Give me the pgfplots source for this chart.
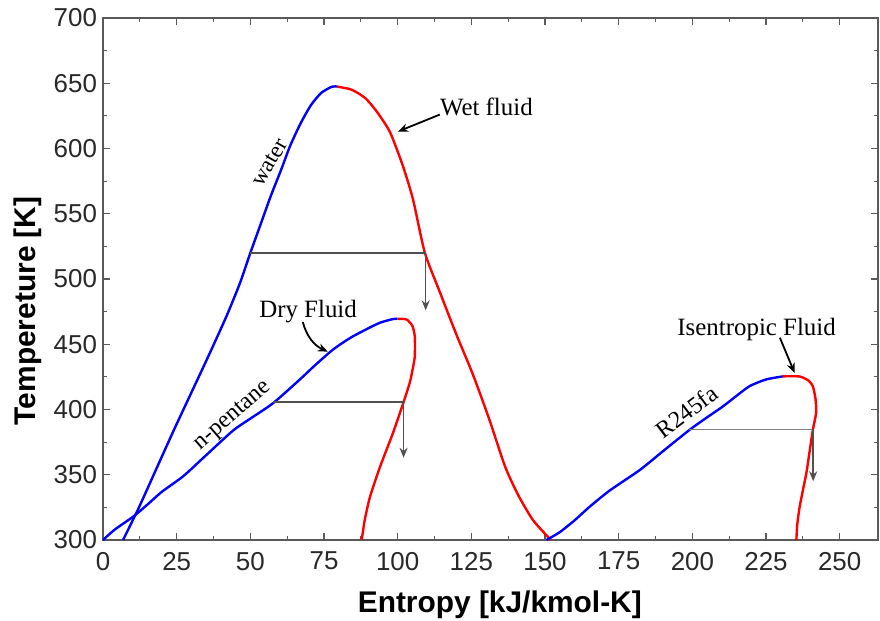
\documentclass[border=0pt]{standalone}
\usepackage{fontspec}
\setmainfont{Liberation Serif}
\setsansfont{Liberation Sans}
\usepackage{pgfplots}
\pgfplotsset{compat=1.18}
\usetikzlibrary{arrows.meta}
\definecolor{axgray}{RGB}{90,90,90}
\definecolor{hline}{RGB}{80,80,80}
\definecolor{tlab}{RGB}{40,40,40}
\begin{document}
\begin{tikzpicture}
\useasboundingbox (-51.5bp,-40.5bp) rectangle (388.5bp,270bp);
\begin{axis}[
  at={(0,0)}, anchor=south west,
  width=387.5bp, height=261bp, scale only axis,
  xmin=0, xmax=263, ymin=300, ymax=700,
  xtick={0,25,...,250}, ytick={300,350,...,700},
  minor x tick num=1, minor y tick num=1,
  major tick length=3.5bp, minor tick length=2bp,
  tick align=inside,
  axis line style={axgray, line width=0.8bp},
  every tick/.style={axgray, line width=0.6bp},
  /pgf/number format/assume math mode=true,
  ticklabel style={font=\sffamily\fontsize{13}{15}\selectfont, text=tlab},
  xticklabel style={yshift=-2.5bp},
  yticklabel style={xshift=0.5bp},
  xlabel={Entropy [kJ/kmol-K]},
  ylabel={Tempereture [K]},
  label style={font=\sffamily\bfseries\fontsize{15}{18}\selectfont},
  xlabel style={at={(axis description cs:0.512,-0.138)}, anchor=base},
  ylabel style={at={(axis description cs:-0.0877,0.439)}, anchor=base},
  clip=false,
]
% water - saturated liquid (blue)
\addplot[blue, line width=1.2bp, smooth, tension=0.4] coordinates {
(6.8,300) (12,324) (18,354) (24,384) (30,413) (36,442) (42,472) (46.5,497)
(50,520) (53.5,542) (57,564) (60.5,584) (63.5,602) (67,619) (70.5,633)
(74,642.5) (77.6,647.3) (79.4,647.5)};
% water - saturated vapour (red)
\addplot[red, line width=1.2bp, smooth, tension=0.4] coordinates {
(79.4,647.5) (83.8,645.5) (86.5,642.5) (89.4,637.8) (93,628) (97.4,612.5)
(101.8,586.4) (105.2,561) (109.2,520.3) (114.3,490) (120,457) (125.5,427)
(131,393) (136.5,356) (141,334) (146,315) (152,300)};
% n-pentane liquid (blue)
\addplot[blue, line width=1.2bp, smooth, tension=0.4] coordinates {
(0,300) (4,308) (10.3,318) (15,327) (20,337) (27.3,349) (35,365) (44.2,384)
(50,393) (57.8,405) (66.8,423) (72,434) (78.1,446) (84,455) (89.4,461.5)
(94,466.5) (98.4,469.3) (100,469.5)};
% n-pentane vapour (red)
\addplot[red, line width=1.2bp, smooth, tension=0.4] coordinates {
(100,469.5) (103,469) (105,464) (105.8,456) (105.8,440.5) (105,430)
(104.1,420.5) (101.9,405) (98.4,382) (94,356) (90.6,333) (88.8,315) (87.8,300)};
% R245fa liquid (blue)
\addplot[blue, line width=1.2bp, smooth, tension=0.4] coordinates {
(150.5,300) (155,306) (160,315) (165.2,325.6) (172,338) (182.2,353.7)
(190,368) (199.1,384.5) (205,394) (210.4,402.4) (215,410.5) (219.5,418)
(225,423) (230.7,425.4)};
% R245fa vapour (red)
\addplot[red, line width=1.2bp, smooth, tension=0.4] coordinates {
(230.7,425.4) (236.4,425.3) (239.5,422) (240.9,417.7) (241.8,408) (242,397.5)
(240.9,384.5) (239.8,368) (238.7,351.4) (237.5,338) (236.4,325.3) (235.6,312)
(235.3,300)};
% horizontal expansion lines and drop arrows
\addplot[hline, line width=1.1bp] coordinates {(50,520) (109.5,520)};
\addplot[hline, line width=0.8bp, -{Stealth[length=5bp,width=4bp]}] coordinates {(109.5,520) (109.5,476)};
\addplot[hline, line width=1.1bp] coordinates {(57.8,405.5) (102,405.5)};
\addplot[hline, line width=0.8bp, -{Stealth[length=5bp,width=4bp]}] coordinates {(102,405.5) (102,363)};
\addplot[gray, line width=0.5bp] coordinates {(199,385) (241,385)};
\addplot[hline, line width=0.7bp, -{Stealth[length=5bp,width=4bp]}] coordinates {(241,385) (241,345)};
% annotations
\node[font=\fontsize{12.5}{14}\selectfont] at (axis cs:130.1,631.7) {Wet fluid};
\draw[black, line width=0.9bp, -{Stealth[length=5bp,width=4bp]}] (axis cs:114.3,626) -- (axis cs:100.1,613);
\node[font=\fontsize{12.5}{14}\selectfont] at (axis cs:69.6,475) {Dry Fluid};
\draw[black, line width=0.9bp, -{Stealth[length=5bp,width=4bp]}] (axis cs:67.8,467) to[bend right=25] (axis cs:76.3,444.3);
\node[font=\fontsize{12.5}{14}\selectfont] at (axis cs:221.8,461) {Isentropic Fluid};
\draw[black, line width=0.9bp, -{Stealth[length=5bp,width=4bp]}] (axis cs:229.7,455) -- (axis cs:234.7,428);
\node[font=\fontsize{11.5}{13}\selectfont, rotate=60, inner sep=0pt] at (axis cs:56.6,589.2) {water};
\node[font=\fontsize{12}{14}\selectfont, rotate=41, inner sep=0pt] at (axis cs:44.2,394.7) {n-pentane};
\node[font=\fontsize{12}{14}\selectfont, rotate=37, inner sep=0pt] at (axis cs:198,398.5) {R245fa};
\end{axis}
\end{tikzpicture}
\end{document}
